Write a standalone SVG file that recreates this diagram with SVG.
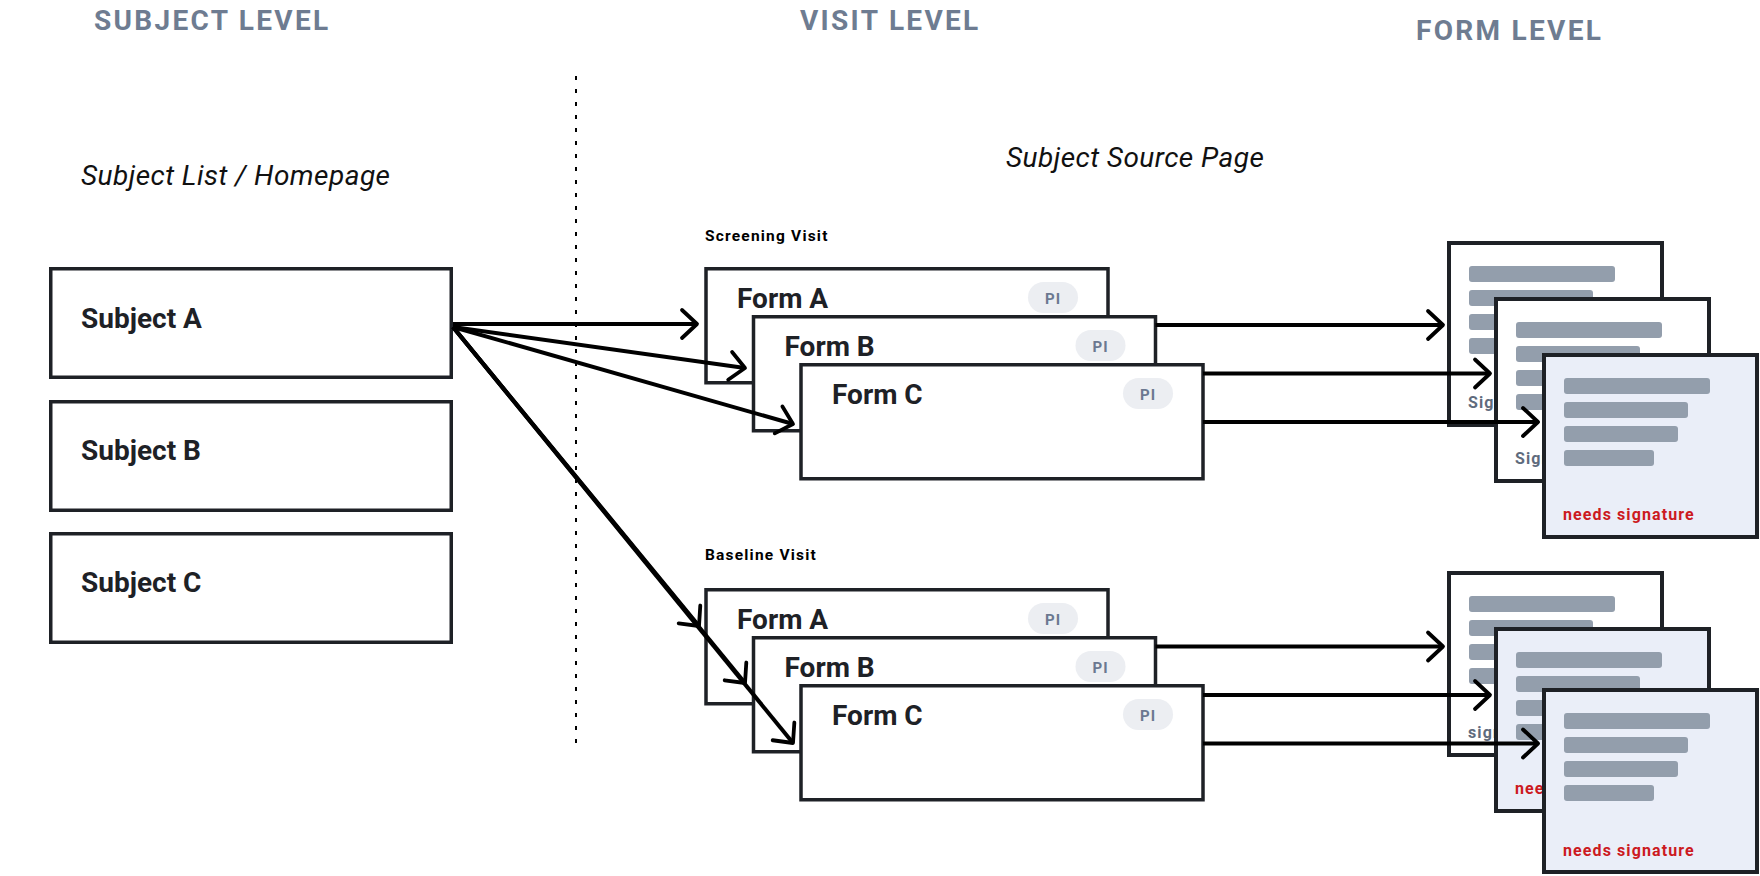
<svg xmlns="http://www.w3.org/2000/svg" width="1760" height="876" viewBox="0 0 1760 876">
<style>
text{font-family:Roboto,"Liberation Sans",sans-serif}
.title{font-size:28px;font-weight:700;fill:#6e7c91;letter-spacing:2.3px}
.ital{font-size:28px;font-style:italic;fill:#111;letter-spacing:0.45px}
.visit{font-size:15.5px;font-weight:700;fill:#000;letter-spacing:1.2px}
.box{fill:#fff;stroke:#1e2126;stroke-width:3.5}
.form{fill:#fff;stroke:#1e2126;stroke-width:3.5}
.lbl{font-size:28px;font-weight:700;fill:#1e2126}
.pill{fill:#eceef2}
.pi{font-size:15px;font-weight:700;fill:#6b7890;letter-spacing:1px;text-anchor:middle}
.doc{fill:#fff;stroke:#1e2126;stroke-width:4}
.doc.blue{fill:#eaeef8}
.bar{fill:#939eac}
.sig{font-size:16px;font-weight:700;fill:#5f6b7d;letter-spacing:1.1px}
.need{font-size:16px;font-weight:700;fill:#cc1a1f;letter-spacing:1.1px}
.conn{stroke:#000;stroke-width:4;fill:none;marker-end:url(#arr)}
</style>
<defs>
<marker id="arr" markerUnits="userSpaceOnUse" markerWidth="40" markerHeight="40" viewBox="-20 -20 40 40" refX="0" refY="0" orient="auto" overflow="visible">
<path d="M-15,-14 L0,0 L-15,14" fill="none" stroke="#000" stroke-width="3.8" stroke-linecap="round" stroke-linejoin="round"/>
</marker>
<g id="bars">
<rect class="bar" x="20" y="23" width="146" height="16" rx="3"/>
<rect class="bar" x="20" y="47" width="124" height="16" rx="3"/>
<rect class="bar" x="20" y="71" width="114" height="16" rx="3"/>
<rect class="bar" x="20" y="95" width="90" height="16" rx="3"/>
</g>
</defs>
<rect width="1760" height="876" fill="#fff"/>

<g id="headers">
<text class="title" x="94" y="30">SUBJECT LEVEL</text>
<text class="title" x="800" y="30">VISIT LEVEL</text>
<text class="title" x="1416" y="40">FORM LEVEL</text>
<text class="ital" x="81" y="185">Subject List / Homepage</text>
<text class="ital" x="1006" y="167">Subject Source Page</text>
<text class="visit" x="705" y="241">Screening Visit</text>
<text class="visit" x="705" y="560">Baseline Visit</text>
</g>

<line id="divider" x1="576" y1="76" x2="576" y2="743" stroke="#000" stroke-width="2" stroke-dasharray="4 9"/>

<g id="subject-a"><rect class="box" x="50.75" y="268.75" width="400.5" height="108.5"/><text class="lbl" x="81" y="328">Subject A</text></g>
<g id="subject-b"><rect class="box" x="50.75" y="401.75" width="400.5" height="108.5"/><text class="lbl" x="81" y="460">Subject B</text></g>
<g id="subject-c"><rect class="box" x="50.75" y="533.75" width="400.5" height="108.5"/><text class="lbl" x="81" y="592">Subject C</text></g>

<g id="screening-docs">
<g id="s-doc1"><rect class="doc" x="1449" y="243" width="213" height="182"/><use href="#bars" x="1449" y="243"/><text class="sig" x="1468" y="408">Signed</text></g>
<g id="s-doc2"><rect class="doc" x="1496" y="299" width="213" height="182"/><use href="#bars" x="1496" y="299"/><text class="sig" x="1515" y="464">Signed</text></g>
<g id="s-doc3"><rect class="doc blue" x="1544" y="355" width="213" height="182"/><use href="#bars" x="1544" y="355"/><text class="need" x="1563" y="520">needs signature</text></g>
</g>
<g id="baseline-docs">
<g id="b-doc1"><rect class="doc" x="1449" y="573" width="213" height="182"/><use href="#bars" x="1449" y="573"/><text class="sig" x="1468" y="738">signed</text></g>
<g id="b-doc2"><rect class="doc blue" x="1496" y="629" width="213" height="182"/><use href="#bars" x="1496" y="629"/><text class="need" x="1515" y="794">needs signature</text></g>
<g id="b-doc3"><rect class="doc blue" x="1544" y="690" width="213" height="182"/><use href="#bars" x="1544" y="690"/><text class="need" x="1563" y="856">needs signature</text></g>
</g>

<g id="screening-forms">
<g id="s-form-a"><rect class="form" x="706" y="268.75" width="402" height="114"/><text class="lbl" x="737" y="308">Form A</text><rect class="pill" x="1028" y="282" width="50" height="31" rx="15.5"/><text class="pi" x="1053" y="304">PI</text></g>
<g id="s-form-b"><rect class="form" x="753.5" y="316.75" width="402" height="114"/><text class="lbl" x="784.5" y="356">Form B</text><rect class="pill" x="1075.5" y="330" width="50" height="31" rx="15.5"/><text class="pi" x="1100.5" y="352">PI</text></g>
<g id="s-form-c"><rect class="form" x="801" y="364.75" width="402" height="114"/><text class="lbl" x="832" y="404">Form C</text><rect class="pill" x="1123" y="378" width="50" height="31" rx="15.5"/><text class="pi" x="1148" y="400">PI</text></g>
</g>
<g id="baseline-forms">
<g id="b-form-a"><rect class="form" x="706" y="589.75" width="402" height="114"/><text class="lbl" x="737" y="629">Form A</text><rect class="pill" x="1028" y="603" width="50" height="31" rx="15.5"/><text class="pi" x="1053" y="625">PI</text></g>
<g id="b-form-b"><rect class="form" x="753.5" y="637.75" width="402" height="114"/><text class="lbl" x="784.5" y="677">Form B</text><rect class="pill" x="1075.5" y="651" width="50" height="31" rx="15.5"/><text class="pi" x="1100.5" y="673">PI</text></g>
<g id="b-form-c"><rect class="form" x="801" y="685.75" width="402" height="114"/><text class="lbl" x="832" y="725">Form C</text><rect class="pill" x="1123" y="699" width="50" height="31" rx="15.5"/><text class="pi" x="1148" y="721">PI</text></g>
</g>

<g id="connectors">
<line class="conn" x1="453" y1="324" x2="697" y2="324"/>
<line class="conn" x1="453" y1="327" x2="745" y2="368"/>
<line class="conn" x1="453" y1="327" x2="793" y2="424"/>
<line class="conn" x1="453" y1="327" x2="699" y2="626"/>
<line class="conn" x1="453" y1="327" x2="745" y2="683"/>
<line class="conn" x1="453" y1="327" x2="793" y2="743"/>
<line class="conn" x1="1155.5" y1="325" x2="1443" y2="325"/>
<line class="conn" x1="1203" y1="373.5" x2="1490" y2="373.5"/>
<line class="conn" x1="1203" y1="422" x2="1538" y2="422"/>
<line class="conn" x1="1155.5" y1="646.5" x2="1443" y2="646.5"/>
<line class="conn" x1="1203" y1="695" x2="1490" y2="695"/>
<line class="conn" x1="1203" y1="743.5" x2="1538" y2="743.5"/>
</g>
</svg>
